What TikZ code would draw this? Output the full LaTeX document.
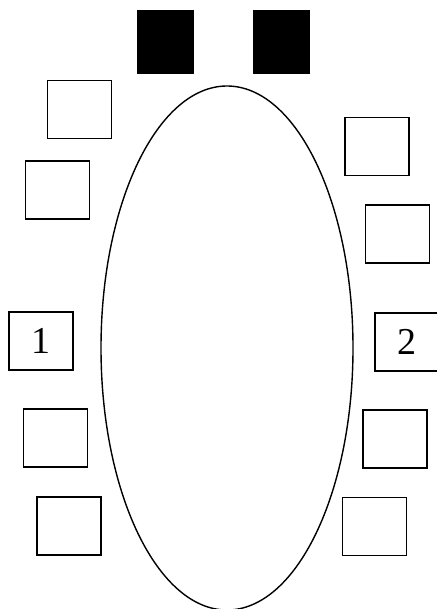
\documentclass[tikz,border=0pt]{standalone}
\usepackage{fontspec}
\setmainfont{Liberation Serif}
\usetikzlibrary{shapes.geometric, positioning}

\begin{document}
\begin{tikzpicture}[
  x=1pt, y=-1pt,
  seat/.style={
    rectangle, draw, line width=1.8pt,
    minimum width=64pt, minimum height=58pt,
    inner sep=0pt, font=\fontsize{38}{40}\selectfont
  },
  chair/.style={
    rectangle, draw, fill=black, line width=0.8pt,
    minimum width=56pt, minimum height=63pt,
    inner sep=0pt
  },
  table/.style={
    ellipse, draw, line width=1.4pt,
    minimum width=252pt, minimum height=524pt,
    inner sep=0pt
  }
]

\useasboundingbox (0,0) rectangle (436,609);

%% Table
\node[table] (tbl) at (227,348) {};

%% Head of table
\node[chair] (h1) at (165,41.5) {};
\node[chair] (h2) at (281,41.5) {};

%% Left side
\node[seat] (l1) at (79.5,109.5) {};
\node[seat] (l2) at (57.5,190) {};
\node[seat] (s1) at (41,341) {1};
\node[seat] (l4) at (55.5,438) {};
\node[seat] (l5) at (69,526) {};

%% Right side
\node[seat] (r1) at (377,146.5) {};
\node[seat] (r2) at (397.5,234) {};
\node[seat] (s2) at (407,342) {2};
\node[seat] (r4) at (395,439) {};
\node[seat] (r5) at (374.5,526.5) {};

\end{tikzpicture}
\end{document}
